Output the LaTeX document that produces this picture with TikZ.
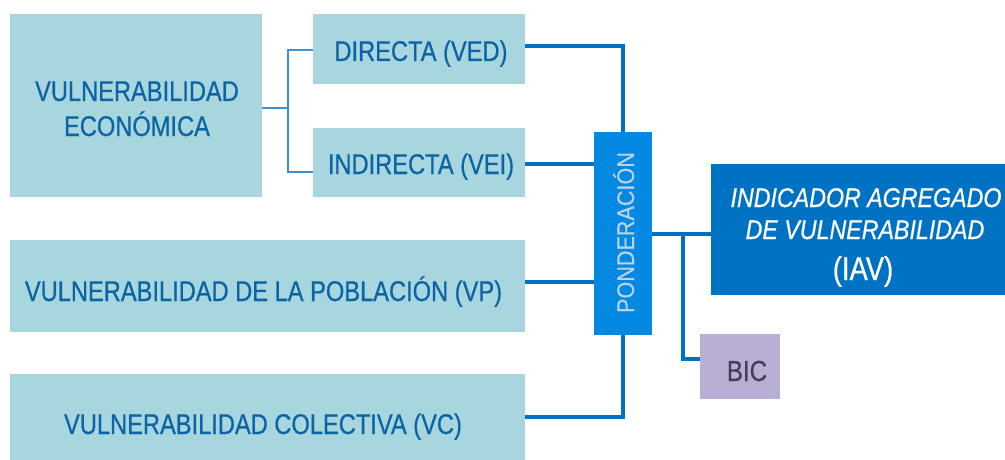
\documentclass[tikz,border=0pt]{standalone}
\usepackage{fontspec}
\setmainfont{Liberation Sans}[FakeStretch=0.83,FakeBold=0.6]
\newfontfamily\iavfont{Liberation Sans}[FakeStretch=0.86,FakeBold=0.6]
\newfontfamily\pondfont{Liberation Sans}[FakeStretch=0.9,FakeBold=0.4]
\definecolor{lightbox}{RGB}{168,214,223}
\definecolor{darktxt}{RGB}{12,100,164}
\definecolor{conn}{RGB}{0,112,192}
\definecolor{thinconn}{RGB}{60,145,210}
\definecolor{pondfill}{RGB}{3,137,226}
\definecolor{pondtxt}{RGB}{188,210,226}
\definecolor{iavfill}{RGB}{0,114,196}
\definecolor{bicfill}{RGB}{185,175,212}
\definecolor{bictxt}{RGB}{70,64,86}
\begin{document}
\begin{tikzpicture}[x=1pt,y=-1pt,
  boxbase/.style={draw=none,inner sep=0pt,outer sep=0pt,anchor=north west},
  lbox/.style={boxbase,fill=lightbox},
  ltxt/.style={anchor=base,inner sep=0pt,text=darktxt,font=\fontsize{28.5}{30}\selectfont},
  thick conn/.style={draw=conn,line width=4pt},
  thin conn/.style={draw=thinconn,line width=1.4pt}]
\useasboundingbox (0,0) rectangle (1005,460);
% boxes
\node[lbox,minimum width=252pt,minimum height=183pt] (ve) at (10,14) {};
\node[lbox,minimum width=212pt,minimum height=70pt] (ved) at (313,14) {};
\node[lbox,minimum width=212pt,minimum height=69pt] (vei) at (313,128) {};
\node[lbox,minimum width=515pt,minimum height=92pt] (vp) at (10,240) {};
\node[lbox,minimum width=515pt,minimum height=86pt] (vc) at (10,374) {};
\node[boxbase,fill=pondfill,minimum width=58pt,minimum height=203pt] (pond) at (594,132) {};
\node[boxbase,fill=iavfill,minimum width=294pt,minimum height=131pt] (iav) at (711,164) {};
\node[boxbase,fill=bicfill,minimum width=80pt,minimum height=65pt] (bic) at (700,334) {};
% texts
\node[ltxt] (vet1) at (137,101) {VULNERABILIDAD};
\node[ltxt] (vet2) at (137,136) {ECONÓMICA};
\node[ltxt] (vedt) at (421,61) {DIRECTA (VED)};
\node[ltxt] (veit) at (421,174) {INDIRECTA (VEI)};
\node[ltxt] (vpt) at (263.5,301) {VULNERABILIDAD DE LA POBLACIÓN (VP)};
\node[ltxt] (vct) at (263,434) {VULNERABILIDAD COLECTIVA (VC)};
\node[anchor=base,inner sep=0pt,rotate=90,text=pondtxt,font=\pondfont\fontsize{24}{26}\selectfont] (pondt) at (634,232.5) {PONDERACIÓN};
\node[anchor=base,inner sep=0pt,text=white,font=\iavfont\itshape\fontsize{27}{29}\selectfont] (iavt1) at (866,207) {INDICADOR AGREGADO};
\node[anchor=base,inner sep=0pt,text=white,font=\iavfont\itshape\fontsize{27}{29}\selectfont] (iavt2) at (865,239) {DE VULNERABILIDAD};
\node[anchor=base,inner sep=0pt,text=white,font=\fontsize{33}{35}\selectfont] (iavt3) at (863,280) {(IAV)};
\node[anchor=base,inner sep=0pt,text=bictxt,font=\fontsize{29}{31}\selectfont] (bict) at (747,381) {BIC};
% thin bracket
\draw[thin conn] ([yshift=-2.5pt]ve.east) -- ++(26,0) coordinate (vb);
\draw[thin conn] (vb) |- ([yshift=-1pt]ved.west);
\draw[thin conn] (vb) |- ([yshift=-9.5pt]vei.west);
% thick connectors
\draw[thick conn] ([yshift=3pt]ved.east) -| (pond.north);
\draw[thick conn] ([yshift=-1.5pt]vei.east) -- ([yshift=-1.5pt]vei.east -| pond.west);
\draw[thick conn] ([yshift=4pt]vp.east) -- ([yshift=4pt]vp.east -| pond.west);
\draw[thick conn] (vc.east) -| (pond.south);
\draw[thick conn] (pond.east) -- (pond.east -| iav.west);
\coordinate (br) at (683,233.5);
\draw[thick conn] (br) |- ([yshift=7.5pt]bic.west);
\end{tikzpicture}
\end{document}
